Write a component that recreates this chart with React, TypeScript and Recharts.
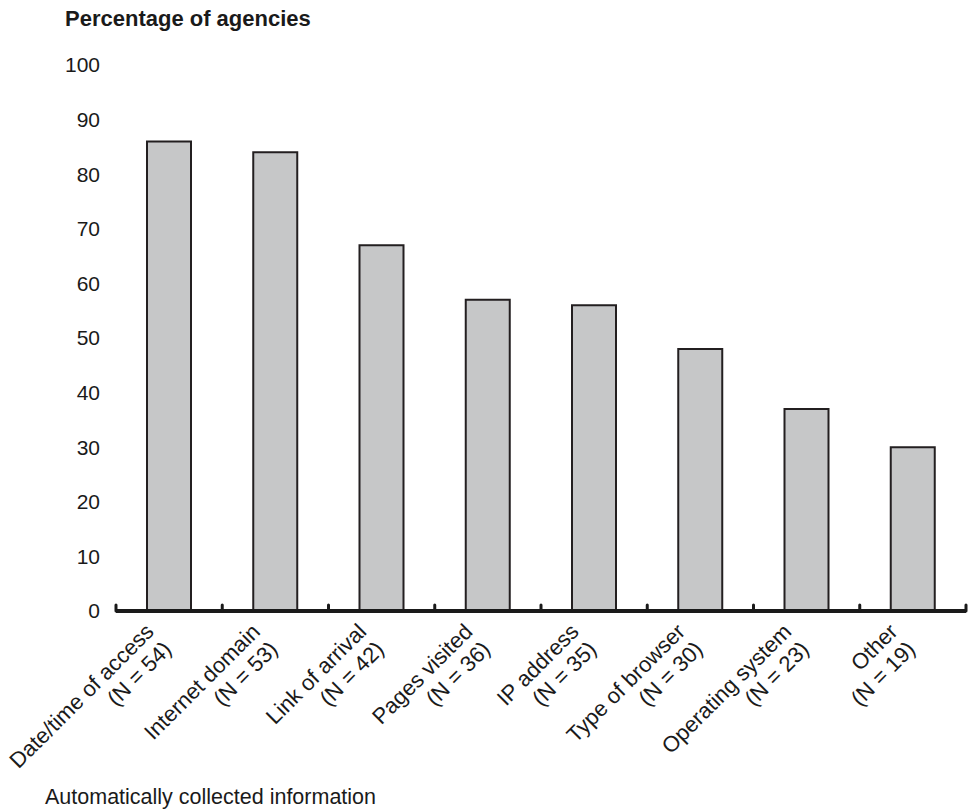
import { Bar, BarChart, XAxis, YAxis } from 'recharts';

const categories = [
  'Date/time of access',
  'Internet domain',
  'Link of arrival',
  'Pages visited',
  'IP address',
  'Type of browser',
  'Operating system',
  'Other',
];
const counts = [54, 53, 42, 36, 35, 30, 23, 19];
const percentages = [86, 84, 67, 57, 56, 48, 37, 30];
const yTicks = [0, 10, 20, 30, 40, 50, 60, 70, 80, 90, 100];

const data = categories.map((name, i) => ({
  name,
  n: counts[i],
  pct: percentages[i],
}));

const FONT = '"Liberation Sans", Arial, Helvetica, sans-serif';
const CHART_W = 976;
const CHART_H = 810;
const Y_AXIS_W = 116;
const RIGHT = 10;
const BAND = (CHART_W - Y_AXIS_W - RIGHT) / categories.length;

// category label (two lines, rotated) plus the small tick at each band edge
const CategoryTick = (props: any) => {
  const { x, y, payload, index } = props;
  const item = data[index];
  const left = x - BAND / 2;
  const right = x + BAND / 2;
  return (
    <g>
      <line x1={left} y1={y} x2={left} y2={y - 6} stroke="#1a1a1a" strokeWidth={3} strokeLinecap="round" />
      {index === data.length - 1 && (
        <line x1={right} y1={y} x2={right} y2={y - 6} stroke="#1a1a1a" strokeWidth={3} strokeLinecap="round" />
      )}
      <text
        transform={`translate(${x - 14},${y + 22}) rotate(-45)`}
        textAnchor="end"
        fontSize={22}
        fontFamily={FONT}
        fill="#1a1a1a"
      >
        <tspan x={0} y={0}>{payload.value}</tspan>
        <tspan x={0} y={25}>{`(N = ${item ? item.n : ''})`}</tspan>
      </text>
    </g>
  );
};

export default function App() {
  return (
    <div style={{ position: 'absolute', left: 0, top: 0, width: CHART_W, height: CHART_H, fontFamily: FONT, background: '#fff' }}>
      <div
        style={{
          position: 'absolute',
          left: 65,
          top: 8,
          fontSize: 22,
          lineHeight: '22px',
          fontWeight: 'bold',
          color: '#1a1a1a',
          whiteSpace: 'nowrap',
        }}
      >
        Percentage of agencies
      </div>
      <BarChart
        width={CHART_W}
        height={CHART_H}
        data={data}
        margin={{ top: 65, right: RIGHT, bottom: 0, left: 0 }}
      >
        <YAxis
          type="number"
          domain={[0, 100]}
          ticks={yTicks}
          width={Y_AXIS_W}
          axisLine={false}
          tickLine={false}
          tickSize={6}
          tickMargin={10}
          interval={0}
          tick={{ fill: '#1a1a1a', fontSize: 21, fontFamily: FONT }}
        />
        <XAxis
          dataKey="name"
          height={199}
          interval={0}
          axisLine={{ stroke: '#1a1a1a', strokeWidth: 4 }}
          tickLine={false}
          tickSize={0}
          tickMargin={0}
          tick={<CategoryTick />}
        />
        <Bar
          dataKey="pct"
          barSize={44}
          fill="#c6c7c8"
          stroke="#231f20"
          strokeWidth={2}
          isAnimationActive={false}
        />
      </BarChart>
      <div
        style={{
          position: 'absolute',
          left: 45,
          top: 786,
          fontSize: 21.5,
          lineHeight: '22px',
          color: '#1a1a1a',
          whiteSpace: 'nowrap',
        }}
      >
        Automatically collected information
      </div>
    </div>
  );
}
